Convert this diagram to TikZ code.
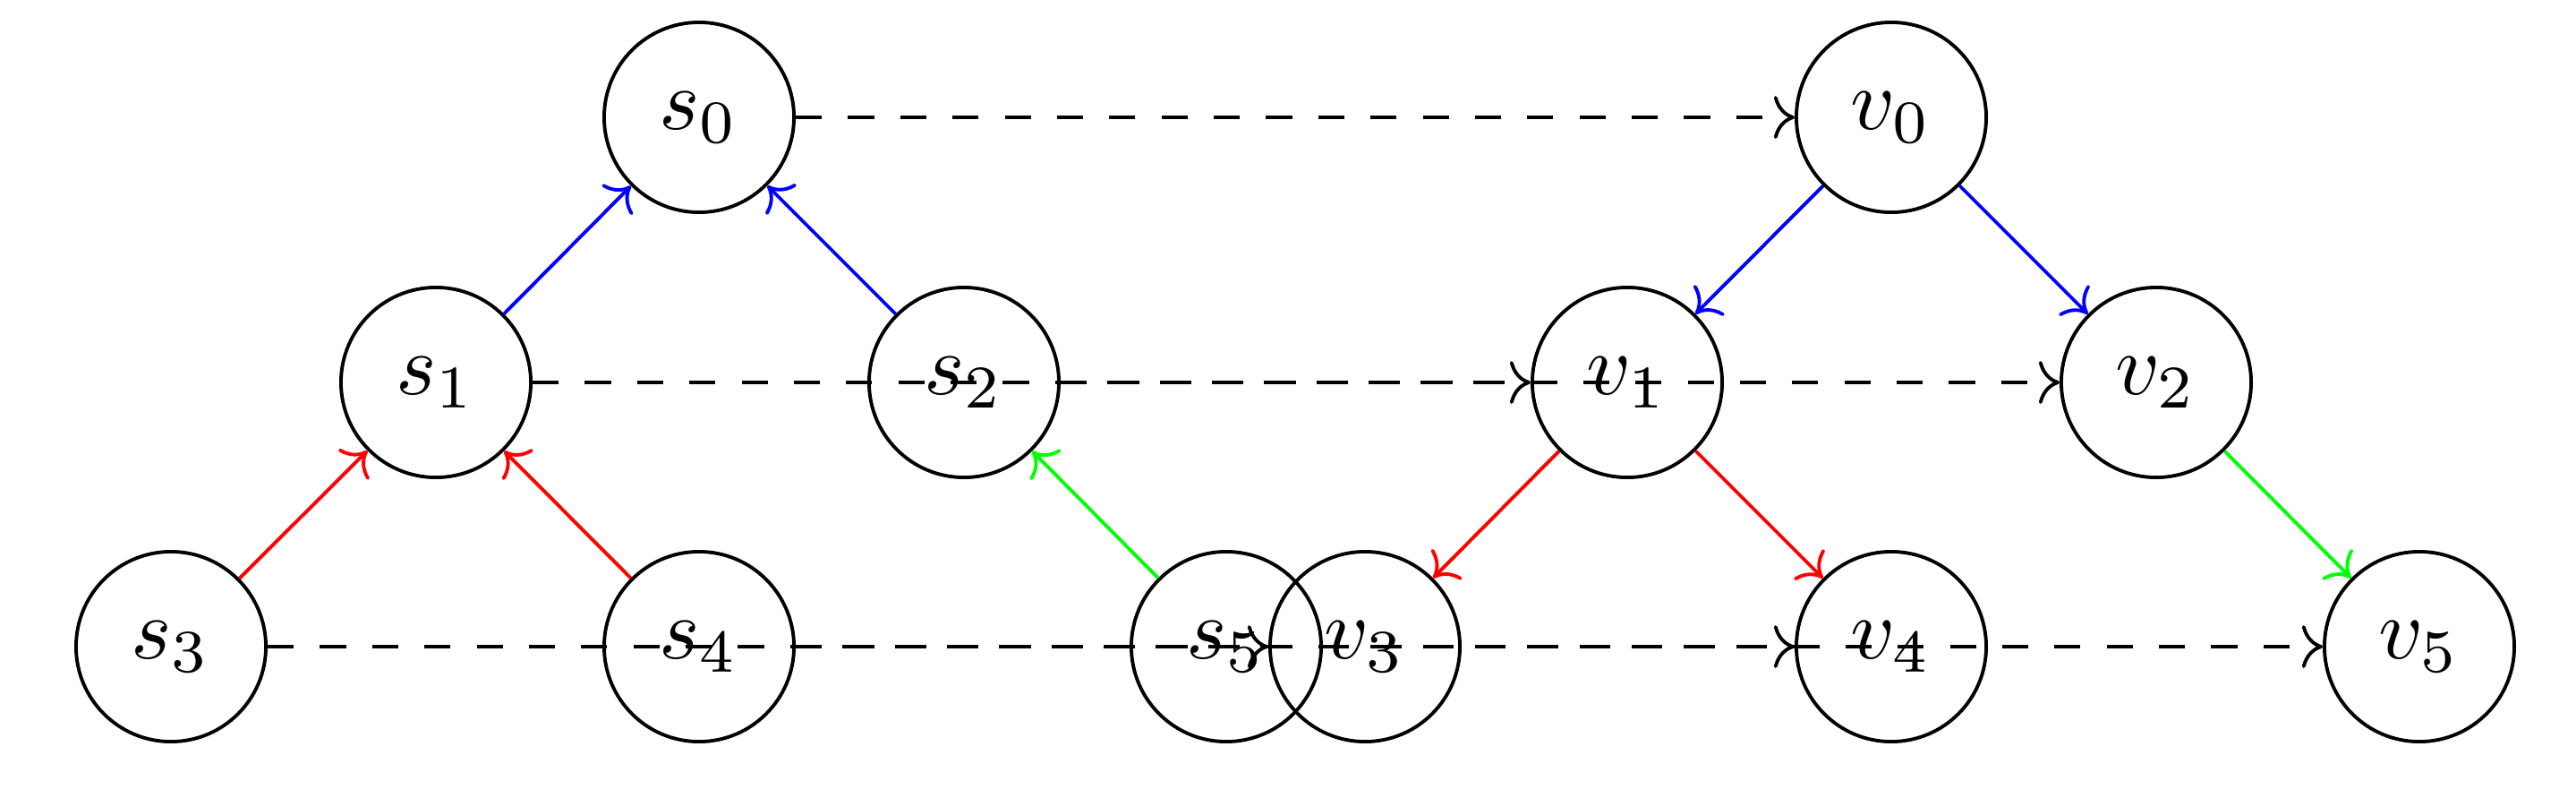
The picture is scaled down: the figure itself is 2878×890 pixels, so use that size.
\documentclass[tikz,border=0pt]{standalone}
\usepackage{graphicx}
\usetikzlibrary{arrows.meta}
\newcommand\lab[1]{\scalebox{2.75}{$#1$}}
\begin{document}
\begin{tikzpicture}[x=0.01cm,y=-0.01cm,
  vertex/.style={circle,draw,line width=1.1pt,minimum size=2.12cm,inner sep=0pt},
  edge/.style={line width=1.1pt,-{Computer Modern Rightarrow[length=6.6pt,width=13.6pt]}},
  corr/.style={edge,dash pattern=on 8.3pt off 8.3pt}]
\useasboundingbox (0,0) rectangle (2878,890);
% s tree
\node[vertex] (s0) at (781,131) {\lab{s_0}};
\node[vertex] (s1) at (487,427) {\lab{s_1}};
\node[vertex] (s2) at (1077,427) {\lab{s_2}};
\node[vertex] (s3) at (191,722) {\lab{s_3}};
\node[vertex] (s4) at (781,722) {\lab{s_4}};
\node[vertex] (s5) at (1370,722) {\lab{s_5}};
% v tree
\node[vertex] (v0) at (2113,131) {\lab{v_0}};
\node[vertex] (v1) at (1818,427) {\lab{v_1}};
\node[vertex] (v2) at (2409,427) {\lab{v_2}};
\node[vertex] (v3) at (1525,722) {\lab{v_3}};
\node[vertex] (v4) at (2113,722) {\lab{v_4}};
\node[vertex] (v5) at (2703,722) {\lab{v_5}};
% tree edges
\draw[edge,blue] (s1) -- (s0);
\draw[edge,blue] (s2) -- (s0);
\draw[edge,red] (s3) -- (s1);
\draw[edge,red] (s4) -- (s1);
\draw[edge,green] (s5) -- (s2);
\draw[edge,blue] (v0) -- (v1);
\draw[edge,blue] (v0) -- (v2);
\draw[edge,red] (v1) -- (v3);
\draw[edge,red] (v1) -- (v4);
\draw[edge,green] (v2) -- (v5);
% correspondences
\draw[corr] (s0.east) -- (v0.west);
\draw[corr] (s1.east) -- (v1.west);
\draw[corr] (s2.east) -- (v2.west);
\draw[corr] (s3.east) -- (v3.west);
\draw[corr] (s4.east) -- (v4.west);
\draw[corr] (s5.east) -- (v5.west);
\end{tikzpicture}
\end{document}
